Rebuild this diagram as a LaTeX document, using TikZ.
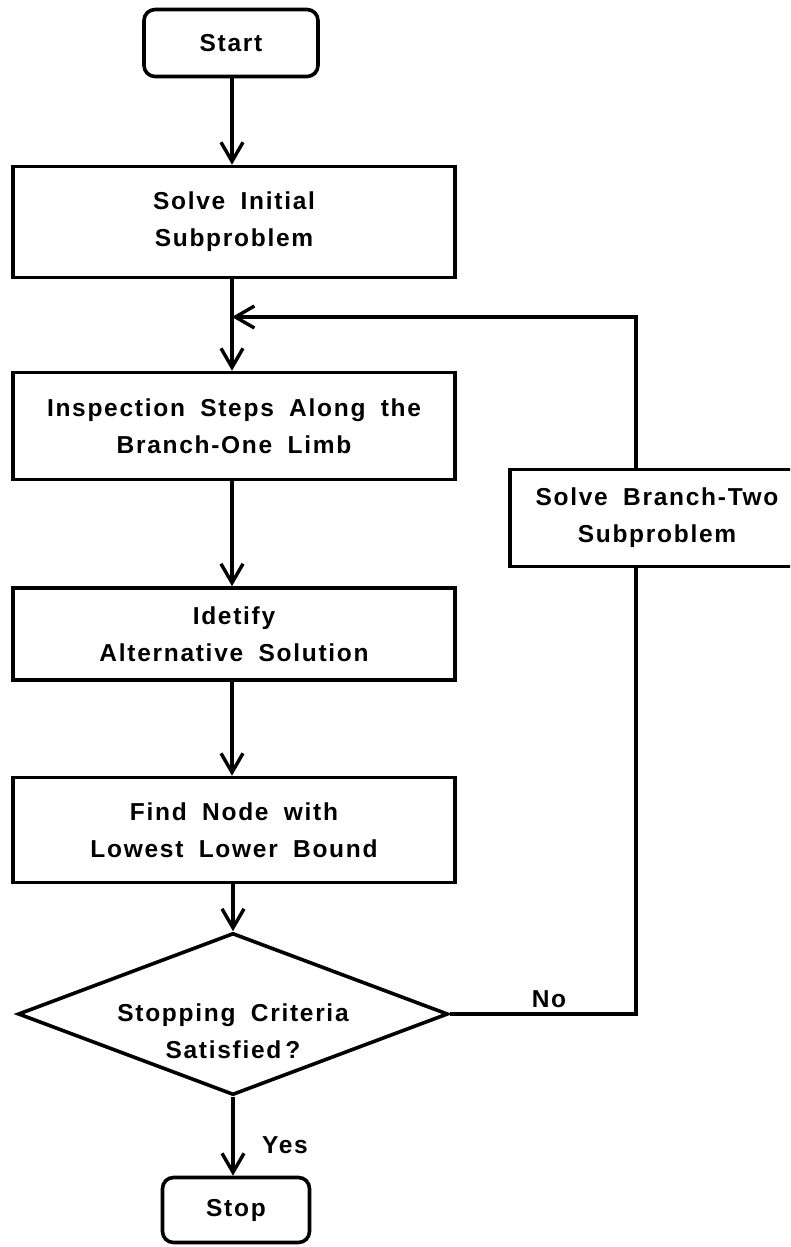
\documentclass[tikz,border=0pt]{standalone}
\usepackage{fontspec}
\setmainfont{Liberation Sans}[LetterSpace=7,WordSpace={1.8,1.5,1}]
\usetikzlibrary{arrows.meta,shapes.geometric}

\begin{document}
\begin{tikzpicture}[x=1pt,y=-1pt,
  every node/.style={font=\fontsize{24.5}{37}\selectfont\bfseries, align=center, inner sep=0pt},
  flowline/.style={line width=3.6pt, line join=miter},
  arrowline/.style={flowline, -{Straight Barb[length=19pt,width=22pt,line width=3.4pt]}},
  procbox/.style={draw, line width=3.6pt, minimum width=#1, minimum height=100pt},
  termbox/.style={draw, line width=3.6pt, rounded corners=11pt, minimum width=#1, minimum height=67pt},
  decision/.style={draw, diamond, line width=3.6pt, minimum width=430pt, minimum height=162pt},
  lbl/.style={font=\fontsize{24.5}{28}\selectfont\bfseries}]

  \clip (0,0) rectangle (790,1247);

  % main column
  \node[termbox=174pt] (start) at (231,43) {Start};
  \node[procbox=442pt, minimum height=111pt] (init) at (234,222) {Solve Initial\\Subproblem};
  \node[procbox=442pt, minimum height=107pt] (insp) at (234,426) {Inspection Steps Along the\\Branch-One Limb};
  \node[procbox=442pt, minimum height=92pt] (ident) at (234,634) {Idetify\\Alternative Solution};
  \node[procbox=442pt, minimum height=105pt] (find) at (234,830) {Find Node with\\Lowest Lower Bound};
  \node[decision] (crit) at (233,1014) {};
  \node (crittext) at (233,1031) {Stopping Criteria\\Satisfied\hspace{4pt}?};
  \node[termbox=147pt, minimum height=65pt] (stop) at (236,1210) {Stop};

  % side branch
  \node[procbox=294pt, minimum height=97pt] (branch) at (657,518) {Solve Branch-Two\\Subproblem};

  \coordinate (fbtop) at (636,317);

  % connectors
  \draw[arrowline] (start.south -| 232,0) -- (init.north -| 232,0);
  \draw[arrowline] (init.south -| 232,0) -- (insp.north -| 232,0);
  \draw[arrowline] (insp.south -| 232,0) -- (ident.north -| 232,0);
  \draw[arrowline] (ident.south -| 232,0) -- (find.north -| 232,0);
  \draw[arrowline] (find.south -| crit.north) -- (crit.north);
  \draw[arrowline] (crit.south) -- (stop.north -| crit.south);

  % "No" loop back to the top of the inspection step
  \draw[flowline] (crit.east) -- (crit.east -| fbtop) -- (branch.south -| fbtop);
  \draw[arrowline] (branch.north -| fbtop) -- (fbtop) -- (fbtop -| 232,0);

  \node[lbl, anchor=south] (nolbl) at (549,1008) {No};
  \node[lbl, anchor=west] (yeslbl) at (262,1145) {Yes};
\end{tikzpicture}
\end{document}
